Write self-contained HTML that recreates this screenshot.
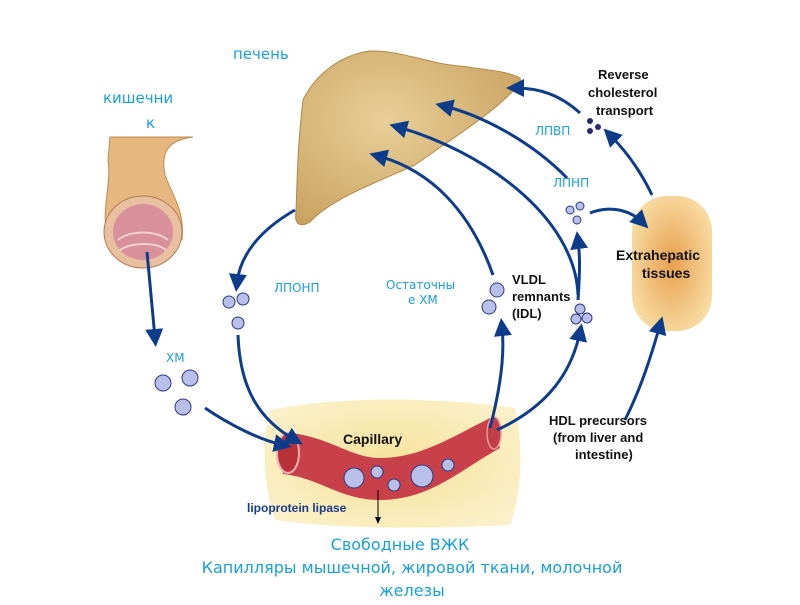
<!DOCTYPE html>
<html><head><meta charset="utf-8"><style>
body{margin:0;background:#fff;width:800px;height:600px;overflow:hidden;font-family:"Liberation Sans",sans-serif}
</style></head><body>
<svg width="800" height="600" viewBox="0 0 800 600" xmlns="http://www.w3.org/2000/svg">
<defs>
<marker id="ah" markerWidth="6" markerHeight="6" refX="3" refY="3" orient="auto" markerUnits="strokeWidth">
<path d="M0,0 L6,3 L0,6 Z" fill="#0d3d8a"/></marker>
<radialGradient id="tis" cx="0.5" cy="0.5" r="0.6"><stop offset="0" stop-color="#e8a050"/><stop offset="1" stop-color="#f8e0a8"/></radialGradient>
<radialGradient id="cap" cx="0.5" cy="0.5" r="0.6"><stop offset="0" stop-color="#f6e29a"/><stop offset="1" stop-color="#fbf0c8"/></radialGradient>
<radialGradient id="liv" cx="0.4" cy="0.4" r="0.7"><stop offset="0" stop-color="#e8cf98"/><stop offset="1" stop-color="#c9a260"/></radialGradient>
</defs>
<!-- liver -->
<path d="M370,51 C400,50 430,64 460,66 C490,70 510,72 520,78 C522,84 515,88 512,92 C490,115 450,140 415,165 C370,185 330,200 310,222 C300,228 294,224 296,212 C297,180 298,140 303,100 C315,75 340,55 370,51 Z" fill="url(#liv)" stroke="#b08848" stroke-width="1"/>
<!-- intestine -->
<path d="M110,137 L193,137 C170,140 160,150 165,175 C172,195 185,210 182,240 L108,240 C100,210 112,185 108,160 Z" fill="#e6b880" stroke="#c08850" stroke-width="1"/>
<ellipse cx="143" cy="232" rx="39" ry="36" fill="#e8c0a0" stroke="#b07a50"/>
<ellipse cx="143" cy="232" rx="30" ry="28" fill="#d8909a"/>
<path d="M118,240 C130,230 156,230 168,240 M120,250 C132,242 156,242 166,250" stroke="#f0d0d0" stroke-width="2" fill="none"/>
<!-- extrahepatic -->
<rect x="632" y="196" width="80" height="135" rx="35" fill="url(#tis)"/>
<!-- capillary region -->
<path d="M270,410 C340,395 450,398 515,408 C525,450 520,500 510,525 C420,530 330,528 275,520 C262,480 262,440 270,410 Z" fill="url(#cap)"/>
<path d="M283,432 C330,436 350,458 380,458 C420,458 450,438 490,418 L500,448 C460,470 430,500 380,500 C340,500 320,478 283,474 Z" fill="#c8414a"/>
<ellipse cx="288" cy="453" rx="11" ry="20" fill="#b83038" stroke="#f0b0b0" stroke-width="2"/>
<ellipse cx="494" cy="433" rx="7" ry="16" fill="#c04048" stroke="#e89898" stroke-width="1.5"/>
<circle cx="354" cy="478" r="10" fill="#b8c0ea" stroke="#2a3a80"/>
<circle cx="377" cy="472" r="6" fill="#b8c0ea" stroke="#2a3a80"/>
<circle cx="394" cy="485" r="6" fill="#b8c0ea" stroke="#2a3a80"/>
<circle cx="422" cy="476" r="11" fill="#b8c0ea" stroke="#2a3a80"/>
<circle cx="448" cy="465" r="6" fill="#b8c0ea" stroke="#2a3a80"/>
<text x="343" y="444" font-size="14" font-weight="bold" fill="#111">Capillary</text>
<text x="247" y="512" font-size="12" font-weight="bold" fill="#1a3d8a">lipoprotein lipase</text>
<line x1="378" y1="490" x2="378" y2="520" stroke="#000"/><path d="M375,517 L378,524 L381,517Z"/>
<!-- particles -->
<g fill="#b8c0ea" stroke="#2a3a80">
<circle cx="229" cy="302" r="6"/><circle cx="243" cy="299" r="6"/><circle cx="238" cy="323" r="6"/>
<circle cx="163" cy="383" r="8"/><circle cx="190" cy="378" r="8"/><circle cx="183" cy="407" r="8"/>
<circle cx="497" cy="290" r="7"/><circle cx="489" cy="307" r="7"/>
<circle cx="580" cy="309" r="5"/><circle cx="576" cy="319" r="5"/><circle cx="587" cy="318" r="5"/>
<circle cx="570" cy="210" r="4"/><circle cx="580" cy="206" r="4"/><circle cx="577" cy="220" r="4"/>
</g>
<g fill="#2a2a70"><circle cx="590" cy="121" r="3"/><circle cx="598" cy="127" r="3"/><circle cx="590" cy="131" r="3"/></g>
<!-- arrows -->
<g fill="none" stroke="#0d3d8a" stroke-width="3" marker-end="url(#ah)">
<path d="M147,252 C150,285 153,315 155,338"/>
<path d="M295,210 C260,230 240,255 237,283"/>
<path d="M205,408 C230,425 260,440 283,445"/>
<path d="M238,335 C240,390 260,420 295,440"/>
<path d="M490,428 C500,390 505,355 502,327"/>
<path d="M497,430 C540,410 570,380 580,332"/>
<path d="M493,275 C470,210 430,170 378,156"/>
<path d="M578,295 C575,215 480,150 398,127"/>
<path d="M578,300 C580,270 580,255 578,240"/>
<path d="M567,178 C530,140 480,115 444,106"/>
<path d="M590,213 C610,205 630,210 642,222"/>
<path d="M652,195 C640,170 625,150 610,135"/>
<path d="M580,113 C560,95 540,88 515,88"/>
<path d="M625,420 C640,390 650,360 660,325"/>
</g>
<!-- labels -->
<g font-size="13" font-weight="bold" fill="#111">
<text x="598" y="79">Reverse</text><text x="588" y="97">cholesterol</text><text x="596" y="115">transport</text>
<text x="512" y="284">VLDL</text><text x="512" y="301">remnants</text><text x="512" y="318">(IDL)</text>
<text x="616" y="260" font-size="14">Extrahepatic</text><text x="642" y="278" font-size="14">tissues</text>
<text x="549" y="425">HDL precursors</text><text x="553" y="442">(from liver and</text><text x="575" y="459">intestine)</text>
</g>
<g font-size="13" fill="#1aa0d8" font-family="'DejaVu Sans',sans-serif">
<text x="233" y="59" font-size="15">печень</text>
<text x="103" y="103" font-size="15">кишечни</text><text x="146" y="128" font-size="15">к</text>
<text x="274" y="292" font-size="12">ЛПОНП</text>
<text x="386" y="289" font-size="12">Остаточны</text><text x="408" y="304" font-size="12">е ХМ</text>
<text x="166" y="362" font-size="12">ХМ</text>
<text x="535" y="135" font-size="12">ЛПВП</text>
<text x="553" y="187" font-size="12">ЛПНП</text>
<text x="400" y="550" font-size="16" text-anchor="middle">Свободные ВЖК</text>
<text x="412" y="573" font-size="16" text-anchor="middle">Капилляры мышечной, жировой ткани, молочной</text>
<text x="412" y="596" font-size="16" text-anchor="middle">железы</text>
</g>
</svg>
</body></html>
